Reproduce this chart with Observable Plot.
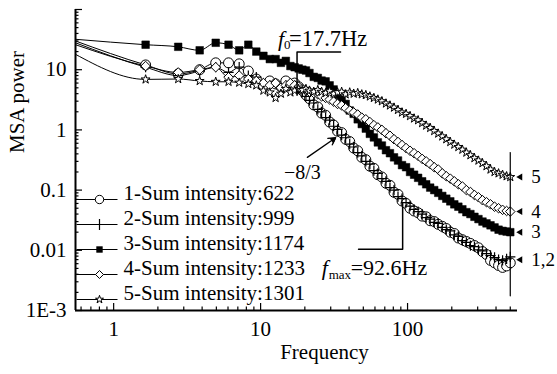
<!DOCTYPE html>
<html><head><meta charset="utf-8">
<script src="https://cdn.jsdelivr.net/npm/d3@7"></script>
<script src="https://cdn.jsdelivr.net/npm/@observablehq/plot@0.6"></script>
<style>body{margin:0;background:#fff}#chart{width:557px;height:374px}</style>
</head><body><div id="chart"></div>
<script>
// ---- data ----
const freqs = [0.55,1.65,2.75,3.85,4.95,6.05,7.15,8.25,9.35,10.45,11.55,12.65,13.75,14.85,15.95,17.05,18.15,19.25,20.35,
  21.5,23,24.5,26,27.7,29.5,31.4,33.4,35.6,37.9,40.4,43,45.8,48.8,52,55.4,59,62.8,66.9,71.3,75.9,80.9,86.1,91.7,97.7,
  104,110.8,118,125.7,133.9,142.6,151.9,161.7,172.3,183.5,195.4,208.1,221.7,236.1,251.4,267.8,285.2,303.8,323.5,344.6,367,390.8,416.3,443.3,472.2,500];
const s1 = [30,12,8.5,10,13,13,12.5,9.5,7,5.5,6.5,5.8,5.2,6.5,5.5,6,5.2,4.5,3.8,
  3.3,2.6,2.4,1.9,1.75,1.35,1.2,0.95,0.9,0.7,0.64,0.5,0.45,0.35,0.32,0.25,0.23,0.18,0.165,0.13,0.12,0.092,0.085,0.066,0.06,
  0.05,0.045,0.042,0.037,0.036,0.031,0.03,0.027,0.025,0.023,0.02,0.019,0.016,0.015,0.014,0.013,0.012,0.011,0.0095,0.0085,0.0068,0.0062,0.0056,0.0052,0.0055,0.0062];
const s2 = [28,11,8,9.5,11,9,11,8,7.5,6,5.5,6,5,5.5,6,5.5,5,4.2,3.6,
  3.1,2.8,2.2,2.0,1.6,1.45,1.15,1.02,0.82,0.74,0.58,0.52,0.42,0.37,0.3,0.27,0.21,0.19,0.155,0.14,0.11,0.1,0.078,0.072,0.062,
  0.054,0.048,0.044,0.04,0.035,0.033,0.029,0.028,0.024,0.022,0.021,0.018,0.017,0.0145,0.0135,0.012,0.0115,0.0102,0.0098,0.0088,0.0082,0.0076,0.007,0.0068,0.0072,0.0078];
const s3 = [32,26,24,21,28,26,21,26,20,17,15,15,13,14,11.5,11,10.5,10,9.7,
  8.8,7.6,7.3,6.6,6.4,5.5,4.7,3.8,3.2,2.7,2.1,1.85,1.5,1.25,1.05,0.86,0.75,0.62,0.55,0.46,0.41,0.35,0.31,0.26,0.24,
  0.2,0.18,0.16,0.14,0.125,0.11,0.1,0.09,0.08,0.072,0.065,0.058,0.053,0.048,0.043,0.04,0.036,0.033,0.03,0.028,0.026,0.024,0.022,0.021,0.0205,0.02];
const s4 = [26,11.5,9,10,11,7.5,8,7,6.5,6,5.5,6,5,5.5,6,5.5,5.2,4.8,4.5,
  4.3,4.1,3.9,3.6,3.4,3.2,2.95,2.7,2.55,2.3,2.1,1.95,1.8,1.6,1.5,1.35,1.2,1.1,1.0,0.88,0.8,0.7,0.63,0.56,0.5,
  0.45,0.41,0.37,0.33,0.3,0.27,0.24,0.22,0.19,0.17,0.155,0.14,0.125,0.115,0.1,0.093,0.083,0.076,0.068,0.063,0.058,0.053,0.05,0.047,0.045,0.044];
const s5 = [18,6.9,7,6.5,6.3,6.3,6.1,5.8,5.5,4.5,4.2,3.4,4,4.8,4.2,4.5,4.8,4.6,4.8,
  4.5,4.3,4.6,4.3,4.1,4.4,4.0,4.2,4.3,3.9,4.2,4.0,4.1,3.9,3.8,3.6,3.4,3.2,3.0,2.75,2.55,2.35,2.15,1.95,1.85,
  1.7,1.55,1.45,1.3,1.18,1.08,0.96,0.87,0.78,0.7,0.63,0.57,0.52,0.47,0.42,0.38,0.34,0.31,0.28,0.25,0.22,0.2,0.19,0.18,0.17,0.165];
const seriesValues = [s1, s2, s3, s4, s5];
const seriesNames = ["1-Sum intensity:622","2-Sum intensity:999","3-Sum intensity:1174","4-Sum intensity:1233","5-Sum intensity:1301"];
const xTickValues = [1, 10, 100];
const xTickLabels = ["1", "10", "100"];
const yTickValues = [0.001, 0.01, 0.1, 1, 10];
const yTickLabels = ["1E-3", "0.01", "0.1", "1", "10"];
const endLabels = ["5", "4", "3", "1,2"];
// annotations
const f0 = 17.7, fmax = 92.6;
const f0Bracket = [[f0, 3.75], [f0, 19.7], [35, 19.7]];
const fmaxBracket = [[fmax, 0.06], [fmax, 0.0104], [46.4, 0.0104]];
const endRule = [[500, 0.42], [500, 0.00175]];
const slopeArrow = [{x1: 20.8, y1: 0.35, x2: 32.4, y2: 0.74, label: "\u22128/3"}];

// ---- layout ----
const W = 557, H = 374, mL = 75, mR = 40, mT = 9, mB = 64;
const plotW = W - mL - mR, plotH = H - mT - mB;
const xDomain = [0.55, 560], yDomain = [0.001, 100];
const font = "'Liberation Serif', 'Times New Roman', serif";

const rows = [];
seriesValues.forEach((vals, i) => vals.forEach((v, j) => rows.push({s: i, f: freqs[j], v})));

const minor = (lo, hi) => { const out = []; for (let k = -4; k <= 3; k++) for (let d = 2; d <= 9; d++) { const t = d * 10 ** k; if (t > lo && t < hi) out.push(+t.toPrecision(3)); } return out; };
const xMinor = minor(xDomain[0], 520), yMinor = minor(yDomain[0], yDomain[1]);

const sym = [
  {symbol: "circle", r: 5, fill: "white", stroke: "black", strokeWidth: 1, lr: 4.2},
  {symbol: "plus", r: 3.4, fill: "none", stroke: "black", strokeWidth: 1.2, lr: 3.7},
  {symbol: "square", r: 4.3, fill: "black", stroke: "black", strokeWidth: 0.5, lr: 3.3},
  {symbol: "diamond2", r: 4.3, fill: "white", stroke: "black", strokeWidth: 1, lr: 3.6},
  {symbol: "star", r: 2.8, fill: "white", stroke: "black", strokeWidth: 1, lr: 2.5}
];
const hline = {draw(ctx) { ctx.moveTo(-20.5, 0); ctx.lineTo(20.5, 0); }};

const marks = [];
marks.push(Plot.line(rows, {x: "f", y: "v", z: "s", stroke: "black", strokeWidth: 1, curve: "monotone-x"}));
seriesValues.forEach((_, i) => {
  const o = sym[i];
  marks.push(Plot.dot(rows.filter(d => d.s === i && d.f > 1), {x: "f", y: "v", symbol: o.symbol, r: o.r, fill: o.fill, stroke: o.stroke, strokeWidth: o.strokeWidth}));
});
// axes
marks.push(Plot.ruleX([xDomain[0]], {stroke: "black", strokeWidth: 2}));
marks.push(Plot.ruleY([yDomain[0]], {stroke: "black", strokeWidth: 2}));
marks.push(Plot.ruleX(xTickValues, {x: d => d, insetTop: plotH - 7, stroke: "black", strokeWidth: 1.2}));
marks.push(Plot.ruleX(xMinor, {x: d => d, insetTop: plotH - 3.5, stroke: "black", strokeWidth: 1.2}));
marks.push(Plot.ruleY(yTickValues.concat([100]), {y: d => d, insetRight: plotW - 7, stroke: "black", strokeWidth: 1.2}));
marks.push(Plot.ruleY(yMinor, {y: d => d, insetRight: plotW - 3.5, stroke: "black", strokeWidth: 1.2}));
marks.push(Plot.axisX(xTickValues, {tickSize: 0, tickPadding: 11, tickFormat: d => xTickLabels[xTickValues.indexOf(d)], fontSize: 21, label: null}));
marks.push(Plot.axisY(yTickValues, {tickSize: 0, tickPadding: 9, tickFormat: d => yTickLabels[yTickValues.indexOf(d)], fontSize: 21, label: null}));
marks.push(Plot.text(["Frequency"], {frameAnchor: "bottom", dx: 28, dy: 48, fontSize: 21}));
marks.push(Plot.text(["MSA power"], {frameAnchor: "left", rotate: -90, dx: -58, dy: -7, fontSize: 21}));
// legend
seriesNames.forEach((name, i) => {
  const dy = -(11 + (4 - i) * 25);
  const o = sym[i];
  marks.push(Plot.dot([name], {frameAnchor: "bottom-left", dx: 21.5, dy, symbol: hline, r: 1, fill: "none", stroke: "black", strokeWidth: 1}));
  marks.push(Plot.dot([name], {frameAnchor: "bottom-left", dx: 24, dy, symbol: o.symbol, r: o.lr, fill: o.fill, stroke: o.stroke, strokeWidth: o.strokeWidth}));
  marks.push(Plot.text([name], {frameAnchor: "bottom-left", dx: 48, dy, text: d => d, textAnchor: "start", fontSize: 21}));
});
// annotations
marks.push(Plot.line(f0Bracket, {x: d => d[0], y: d => d[1], stroke: "black", strokeWidth: 1.5}));
marks.push(Plot.line(fmaxBracket, {x: d => d[0], y: d => d[1], stroke: "black", strokeWidth: 1.5}));
marks.push(Plot.line(endRule, {x: d => d[0], y: d => d[1], stroke: "black", strokeWidth: 1.2}));
marks.push(Plot.text([f0], {x: d => d, y: 33, text: () => "f", fontStyle: "italic", textAnchor: "start", dx: -19, fontSize: 22}));
marks.push(Plot.text([f0], {x: d => d, y: 33, text: () => "0", textAnchor: "start", dx: -13, dy: 6, fontSize: 13}));
marks.push(Plot.text([f0], {x: d => d, y: 33, text: d => "=" + d + "Hz", textAnchor: "start", dx: -8, fontSize: 22.5}));
marks.push(Plot.text([fmax], {x: d => d, y: 0.005, text: () => "f", fontStyle: "italic", textAnchor: "start", dx: -81, fontSize: 22}));
marks.push(Plot.text([fmax], {x: d => d, y: 0.005, text: () => "max", textAnchor: "start", dx: -74, dy: 6, fontSize: 13}));
marks.push(Plot.text([fmax], {x: d => d, y: 0.005, text: d => "=" + d + "Hz", textAnchor: "start", dx: -52, fontSize: 22}));
marks.push(Plot.arrow(slopeArrow, {x1: "x1", y1: "y1", x2: "x2", y2: "y2", stroke: "black", strokeWidth: 1.3, headLength: 9}));
marks.push(Plot.dot(slopeArrow, {x: "x2", y: "y2", symbol: "triangle2", r: 3.2, rotate: 55, fill: "black", dx: -2.5, dy: 2}));
marks.push(Plot.text(slopeArrow, {x: "x1", y: "y1", text: "label", dx: -5, dy: 15, fontSize: 20}));
// end labels
const lastVals = seriesValues.map(s => s[s.length - 1]);
const endLevels = [lastVals[4], lastVals[3], lastVals[2], Math.sqrt(lastVals[0] * lastVals[1])];
const endRows = endLabels.map((t, i) => ({t, v: endLevels[i], f: freqs[freqs.length - 1]}));
marks.push(Plot.dot(endRows, {x: "f", y: "v", symbol: "triangle2", r: 3.3, rotate: -90, fill: "black", dx: 10}));
marks.push(Plot.text(endRows, {x: "f", y: "v", text: "t", textAnchor: "start", dx: 21, fontSize: 19}));

const chart = Plot.plot({
  width: W, height: H,
  marginLeft: mL, marginRight: mR, marginTop: mT, marginBottom: mB,
  x: {type: "log", domain: xDomain, label: null},
  y: {type: "log", domain: yDomain, label: null},
  style: {fontFamily: font, fontSize: "21px", background: "white", color: "black", overflow: "visible"},
  marks
});
document.getElementById("chart").appendChild(chart);
</script>
</body></html>
